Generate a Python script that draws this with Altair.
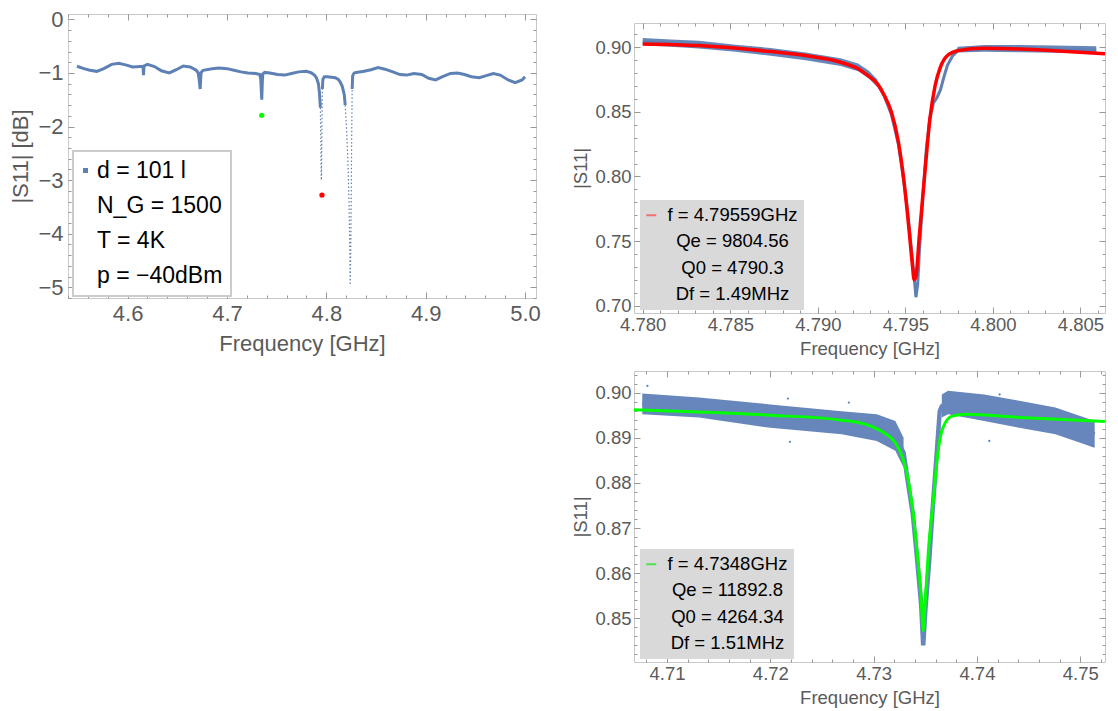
import altair as alt
import pandas as pd

FONT = "Liberation Sans"
BLUE = "#5E81B5"
CLOUD = "#6686bc"
RED = "#FF0000"
GREEN = "#00FF00"
FRAME = "#c8c8c8"
TICK = "#999999"
LABEL = "#5a5a5a"

# ---------------- panel 1 : |S11| [dB] overview ----------------
p1_segA_f = [4.549, 4.556, 4.562, 4.569, 4.576, 4.584, 4.591, 4.598, 4.605, 4.613, 4.6155, 4.616, 4.6165,
             4.620, 4.627, 4.634, 4.642, 4.649, 4.656, 4.663, 4.669, 4.671, 4.672, 4.673, 4.6735, 4.674, 4.676,
             4.685, 4.692, 4.700, 4.707, 4.714, 4.721, 4.729, 4.733, 4.734, 4.7345, 4.735, 4.7355, 4.736, 4.738,
             4.743, 4.751, 4.758, 4.765, 4.772, 4.780, 4.785, 4.788, 4.790, 4.792, 4.793, 4.794]
p1_segA_db = [-0.875, -0.92, -0.95, -0.97, -0.92, -0.84, -0.82, -0.85, -0.89, -0.88, -0.88, -1.04, -0.87,
              -0.84, -0.88, -0.96, -1.0, -0.94, -0.87, -0.89, -0.95, -1.0, -1.12, -1.3, -1.12, -0.99, -0.95,
              -0.92, -0.91, -0.92, -0.95, -0.98, -1.0, -1.01, -1.03, -1.12, -1.3, -1.5, -1.2, -1.02, -0.99,
              -1.0, -1.03, -1.04, -1.01, -0.98, -0.97, -1.0, -1.04, -1.09, -1.2, -1.36, -1.65]
p1_segB_f = [4.796, 4.7965, 4.798, 4.801, 4.805, 4.809, 4.812, 4.814, 4.816, 4.818, 4.819]
p1_segB_db = [-1.3, -1.12, -1.07, -1.07, -1.08, -1.09, -1.12, -1.17, -1.25, -1.4, -1.6]
p1_segC_f = [4.826, 4.8265, 4.828, 4.830, 4.838, 4.845, 4.852, 4.859, 4.867, 4.874, 4.881, 4.888, 4.896,
             4.903, 4.910, 4.917, 4.925, 4.932, 4.939, 4.946, 4.954, 4.961, 4.968, 4.975, 4.983, 4.990,
             4.997, 5.000]
p1_segC_db = [-1.3, -1.05, -1.0, -0.99, -0.97, -0.94, -0.90, -0.93, -0.98, -1.03, -1.04, -1.01, -1.03,
              -1.10, -1.13, -1.07, -1.01, -1.0, -1.03, -1.07, -1.09, -1.05, -1.01, -1.04, -1.13, -1.18,
              -1.13, -1.07]
p1_dip1_f = [4.794, 4.7943, 4.7946, 4.795, 4.7954, 4.7957, 4.796]
p1_dip1_db = [-1.65, -2.1, -2.6, -3.0, -2.3, -1.7, -1.3]
p1_dip2_f = [4.819, 4.8205, 4.8218, 4.8228, 4.8236, 4.824, 4.8245, 4.825, 4.8255, 4.826]
p1_dip2_db = [-1.6, -2.1, -2.7, -3.4, -4.3, -4.96, -4.4, -3.4, -2.2, -1.3]
p1_green_f, p1_green_db = [4.7350], [-1.79]
p1_red_f, p1_red_db = [4.7956], [-3.28]
p1_legend = ["d = 101 l", "N_G = 1500", "T = 4K", "p = \u221240dBm"]
p1_xdom, p1_ydom = [4.540, 5.011], [-5.2, 0.1]
p1_xticks = [4.6, 4.7, 4.8, 4.9, 5.0]
p1_xminor = [round(4.54 + 0.02 * i, 2) for i in range(24)]
p1_yticks = [-5, -4, -3, -2, -1, 0]
p1_yminor = [round(-5.2 + 0.2 * i, 1) for i in range(27)]

# ---------------- panel 2 : resonance 4.79559 GHz ----------------
p2_fit_f = [4.7800, 4.7832, 4.7873, 4.7893, 4.7913, 4.7923, 4.7929, 4.7934, 4.7938, 4.7942, 4.7946,
            4.7949, 4.7952, 4.7954, 4.7955, 4.7956, 4.7958, 4.7961, 4.7964, 4.7967, 4.7970, 4.7974,
            4.7980, 4.7995, 4.8015, 4.8035, 4.8064]
p2_fit_v = [0.9026, 0.9013, 0.8967, 0.8936, 0.8884, 0.8833, 0.8776, 0.8717, 0.8627, 0.8499, 0.8267,
            0.7985, 0.7599, 0.7316, 0.7201, 0.7225, 0.7548, 0.8010, 0.8447, 0.8704, 0.8846, 0.8936,
            0.8974, 0.8992, 0.8987, 0.8974, 0.8949]
p2_data_f = [4.7800, 4.7832, 4.7853, 4.7873, 4.7893, 4.7913, 4.7923, 4.7929, 4.7934, 4.7938, 4.7942,
             4.7946, 4.7949, 4.7951, 4.7953, 4.7955, 4.7956, 4.7957, 4.7958, 4.7960, 4.7962, 4.7964,
             4.7966, 4.7968, 4.7970, 4.7972, 4.7974, 4.7977, 4.7980, 4.7995, 4.8015, 4.8035, 4.8059]
p2_data_v = [0.9043, 0.9020, 0.8993, 0.8965, 0.8930, 0.8885, 0.8845, 0.8790, 0.8720, 0.8620, 0.8480,
             0.8250, 0.7970, 0.7760, 0.7500, 0.7220, 0.7065, 0.7160, 0.7420, 0.7850, 0.8220, 0.8450,
             0.8570, 0.8610, 0.8670, 0.8770, 0.8860, 0.8935, 0.8975, 0.8992, 0.8990, 0.8985, 0.8978]
p2_bandL_f = [4.7800, 4.7816, 4.7832, 4.7853, 4.7873, 4.7893, 4.7913, 4.7923, 4.7929, 4.7934]
p2_bandL_lo = [0.9015, 0.9005, 0.8990, 0.8965, 0.8935, 0.8900, 0.8855, 0.8815, 0.8760, 0.8690]
p2_bandL_hi = [0.9072, 0.9060, 0.9050, 0.9020, 0.8995, 0.8960, 0.8915, 0.8875, 0.8820, 0.8750]
p2_bandR_f = [4.7978, 4.7980, 4.7995, 4.8015, 4.8035, 4.8059]
p2_bandR_lo = [0.8930, 0.8960, 0.8966, 0.8962, 0.8958, 0.8953]
p2_bandR_hi = [0.8960, 0.9005, 0.9017, 0.9017, 0.9013, 0.9008]
p2_legend = ["f = 4.79559GHz", "Qe = 9804.56", "Q0 = 4790.3", "Df = 1.49MHz"]
p2_xdom, p2_ydom = [4.7795, 4.8064], [0.6943, 0.9188]
p2_xticks = [4.780, 4.785, 4.790, 4.795, 4.800, 4.805]
p2_xminor = [round(4.780 + 0.001 * i, 3) for i in range(27)]
p2_yticks = [0.70, 0.75, 0.80, 0.85, 0.90]
p2_yminor = [round(0.70 + 0.01 * i, 2) for i in range(22)]

# ---------------- panel 3 : resonance 4.7348 GHz ----------------
p3_fit_f = [4.7068, 4.7131, 4.7200, 4.7269, 4.7297, 4.7310, 4.7321, 4.7328, 4.7333, 4.7338, 4.7342,
            4.7346, 4.7348, 4.7350, 4.7353, 4.7358, 4.7362, 4.7367, 4.7376, 4.7390, 4.7441, 4.7524]
p3_fit_v = [0.8962, 0.8957, 0.8950, 0.8939, 0.8926, 0.8911, 0.8889, 0.8856, 0.8812, 0.8738, 0.8649,
            0.8546, 0.8472, 0.8539, 0.8649, 0.8767, 0.8863, 0.8922, 0.8948, 0.8952, 0.8945, 0.8936]
p3_data_f = [4.7076, 4.7131, 4.7200, 4.7269, 4.7303, 4.7321, 4.7329, 4.7333, 4.7338, 4.7342, 4.7346,
             4.7348, 4.7350, 4.7354, 4.7357, 4.7361, 4.7364, 4.7366, 4.7372, 4.7407, 4.7441, 4.7476, 4.7514]
p3_data_v = [0.8975, 0.8967, 0.8948, 0.8934, 0.8922, 0.8904, 0.8867, 0.8804, 0.8730, 0.8634, 0.8531,
             0.8440, 0.8516, 0.8634, 0.8738, 0.8863, 0.8959, 0.8970, 0.8978, 0.8966, 0.8952, 0.8937, 0.8908]
p3_bandL_f = [4.7076, 4.7131, 4.7200, 4.7269, 4.7303, 4.7321, 4.7329]
p3_bandL_lo = [0.8952, 0.8945, 0.8922, 0.8908, 0.8893, 0.8871, 0.8834]
p3_bandL_hi = [0.8998, 0.8989, 0.8974, 0.8959, 0.8952, 0.8937, 0.8900]
p3_bandR_f = [4.7366, 4.7372, 4.7407, 4.7441, 4.7476, 4.7514]
p3_bandR_lo = [0.8945, 0.8952, 0.8937, 0.8922, 0.8908, 0.8878]
p3_bandR_hi = [0.8996, 0.9004, 0.8996, 0.8982, 0.8967, 0.8937]
p3_out_f = [4.7081, 4.7217, 4.7276, 4.7422, 4.7512, 4.7219, 4.7412]
p3_out_v = [0.9015, 0.8987, 0.8978, 0.8996, 0.8882, 0.8891, 0.8893]
p3_legend = ["f = 4.7348GHz", "Qe = 11892.8", "Q0 = 4264.34", "Df = 1.51MHz"]
p3_xdom, p3_ydom = [4.7068, 4.7524], [0.8403, 0.9048]
p3_xticks = [4.71, 4.72, 4.73, 4.74, 4.75]
p3_xminor = [round(4.708 + 0.002 * i, 3) for i in range(23)]
p3_yticks = [0.85, 0.86, 0.87, 0.88, 0.89, 0.90]
p3_yminor = [round(0.842 + 0.002 * i, 3) for i in range(32)]


def scales(xd, yd):
    return (alt.Scale(domain=xd, nice=False, zero=False),
            alt.Scale(domain=yd, nice=False, zero=False))


def frame_layers(xd, yd, xmaj, xmin, ymaj, ymin, xfmt, yfmt, xtitle, ytitle, fs,
                 xlp, xtp, ylp, ytp):
    sx, sy = scales(xd, yd)
    base = alt.Chart(pd.DataFrame({"f": xd, "v": yd})).mark_point(opacity=0)

    def ax(orient, values, size, labels=False, fmt="", title="", lp=0, tp=0):
        kw = dict(orient=orient, values=values, tickSize=size, offset=-size, domain=False,
                  grid=False, tickColor=TICK, tickWidth=1, ticks=True, labels=labels, title=None)
        if labels:
            kw.update(format=fmt, title=title, labelFontSize=fs, labelColor=LABEL,
                      labelPadding=lp, labelFlush=False, labelOverlap=False,
                      titleFontSize=fs, titleColor=LABEL, titlePadding=tp,
                      titleFontWeight="normal")
        return alt.Axis(**kw)

    out = []
    specs = [
        (ax("bottom", xmaj, 6, True, xfmt, xtitle, xlp, xtp), ax("left", ymaj, 6, True, yfmt, ytitle, ylp, ytp)),
        (ax("bottom", xmin, 3), ax("left", ymin, 3)),
        (ax("top", xmaj, 6), ax("right", ymaj, 6)),
        (ax("top", xmin, 3), ax("right", ymin, 3)),
    ]
    for axx, axy in specs:
        out.append(base.encode(x=alt.X("f:Q", scale=sx, axis=axx),
                               y=alt.Y("v:Q", scale=sy, axis=axy)))
    return out


def xy(sx, sy, yf="v"):
    return dict(x=alt.X("f:Q", scale=sx, axis=None), y=alt.Y(yf + ":Q", scale=sy, axis=None))


# ---------- build panel 1 ----------
sx1, sy1 = scales(p1_xdom, p1_ydom)
trace1 = pd.DataFrame({
    "f": p1_segA_f + p1_segB_f + p1_segC_f,
    "v": p1_segA_db + p1_segB_db + p1_segC_db,
    "seg": ["A"] * len(p1_segA_f) + ["B"] * len(p1_segB_f) + ["C"] * len(p1_segC_f),
})
dips1 = pd.DataFrame({
    "f": p1_dip1_f + p1_dip2_f,
    "v": p1_dip1_db + p1_dip2_db,
    "seg": ["d1"] * len(p1_dip1_f) + ["d2"] * len(p1_dip2_f),
})
l_trace1 = alt.Chart(trace1).mark_line(color=BLUE, strokeWidth=3, clip=True).encode(
    detail="seg:N", order="f:Q", **xy(sx1, sy1))
l_dips1 = alt.Chart(dips1).mark_line(color=BLUE, strokeWidth=1.2, strokeDash=[1.5, 2.2], clip=True).encode(
    detail="seg:N", **xy(sx1, sy1))
l_g1 = alt.Chart(pd.DataFrame({"f": p1_green_f, "v": p1_green_db})).mark_circle(
    color=GREEN, size=28, opacity=1).encode(**xy(sx1, sy1))
l_r1 = alt.Chart(pd.DataFrame({"f": p1_red_f, "v": p1_red_db})).mark_circle(
    color=RED, size=28, opacity=1).encode(**xy(sx1, sy1))
leg1 = alt.Chart(pd.DataFrame({"entry": p1_legend})).mark_square(opacity=0, filled=True).encode(
    color=alt.Color("entry:N",
                    scale=alt.Scale(domain=p1_legend, range=[BLUE, "transparent", "transparent", "transparent"]),
                    legend=alt.Legend(title=None, orient="none", legendX=5, legendY=137,
                                      symbolType="square", symbolSize=25, symbolOpacity=1,
                                      symbolStrokeWidth=0, symbolOffset=-7, labelFontSize=23,
                                      labelColor="black", labelAlign="left", labelOffset=0,
                                      rowPadding=11, padding=8,
                                      fillColor="white", strokeColor="#cccccc",
                                      labelLimit=0)))
p1 = alt.layer(
    *frame_layers(p1_xdom, p1_ydom, p1_xticks, p1_xminor, p1_yticks, p1_yminor, ".1f", "d",
                  "Frequency [GHz]", "|S11| [dB]", 22, 5, 9, 5, 5),
    l_trace1, l_dips1, l_g1, l_r1, leg1,
).resolve_axis(x="independent", y="independent").properties(width=468, height=284)

# ---------- build panel 2 ----------
sx2, sy2 = scales(p2_xdom, p2_ydom)
band2 = pd.DataFrame({"f": p2_bandL_f + p2_bandR_f, "v": p2_bandL_lo + p2_bandR_lo,
                      "v2": p2_bandL_hi + p2_bandR_hi,
                      "sec": ["L"] * len(p2_bandL_f) + ["R"] * len(p2_bandR_f)})
l_band2 = alt.Chart(band2).mark_area(color=BLUE, opacity=0.95, clip=True).encode(
    y2="v2:Q", detail="sec:N", **xy(sx2, sy2))
l_data2 = alt.Chart(pd.DataFrame({"f": p2_data_f, "v": p2_data_v})).mark_line(
    color=BLUE, strokeWidth=3, clip=True).encode(**xy(sx2, sy2))
l_fit2 = alt.Chart(pd.DataFrame({"f": p2_fit_f, "v": p2_fit_v})).mark_line(
    color=RED, strokeWidth=3.5, interpolate="monotone", clip=True).encode(**xy(sx2, sy2))
leg2 = alt.Chart(pd.DataFrame({"entry": p2_legend})).mark_point(opacity=0, filled=False).encode(
    color=alt.Color("entry:N",
                    scale=alt.Scale(domain=p2_legend, range=["#f07070", "transparent", "transparent", "transparent"]),
                    legend=alt.Legend(title=None, orient="none", legendX=7, legendY=178,
                                      symbolType="stroke", symbolSize=100, symbolStrokeWidth=2,
                                      symbolOpacity=1, symbolOffset=-4, labelFontSize=18.5,
                                      labelColor="black", labelAlign="center", labelOffset=72,
                                      rowPadding=7.2, padding=5,
                                      fillColor="#d9d9d9", strokeColor="#d9d9d9", labelLimit=0)))
p2 = alt.layer(
    *frame_layers(p2_xdom, p2_ydom, p2_xticks, p2_xminor, p2_yticks, p2_yminor, ".3f", ".2f",
                  "Frequency [GHz]", "|S11|", 18.5, 2, 6, 3, 4),
    l_band2, l_data2, l_fit2, leg2,
).resolve_axis(x="independent", y="independent").properties(width=471, height=290)

# ---------- build panel 3 ----------
sx3, sy3 = scales(p3_xdom, p3_ydom)
band3 = pd.DataFrame({"f": p3_bandL_f + p3_bandR_f, "v": p3_bandL_lo + p3_bandR_lo,
                      "v2": p3_bandL_hi + p3_bandR_hi,
                      "sec": ["L"] * len(p3_bandL_f) + ["R"] * len(p3_bandR_f)})
l_band3 = alt.Chart(band3).mark_area(color=CLOUD, opacity=1, clip=True).encode(
    y2="v2:Q", detail="sec:N", **xy(sx3, sy3))
l_data3 = alt.Chart(pd.DataFrame({"f": p3_data_f, "v": p3_data_v})).mark_line(
    color=CLOUD, strokeWidth=4.5, opacity=1, clip=True).encode(**xy(sx3, sy3))
l_out3 = alt.Chart(pd.DataFrame({"f": p3_out_f, "v": p3_out_v})).mark_circle(
    color=BLUE, size=5, opacity=1).encode(**xy(sx3, sy3))
l_fit3 = alt.Chart(pd.DataFrame({"f": p3_fit_f, "v": p3_fit_v})).mark_line(
    color=GREEN, strokeWidth=3, interpolate="monotone", clip=True).encode(**xy(sx3, sy3))
leg3 = alt.Chart(pd.DataFrame({"entry": p3_legend})).mark_point(opacity=0, filled=False).encode(
    color=alt.Color("entry:N",
                    scale=alt.Scale(domain=p3_legend, range=["#4ee04e", "transparent", "transparent", "transparent"]),
                    legend=alt.Legend(title=None, orient="none", legendX=7, legendY=179,
                                      symbolType="stroke", symbolSize=100, symbolStrokeWidth=2,
                                      symbolOpacity=1, symbolOffset=-4, labelFontSize=18.5,
                                      labelColor="black", labelAlign="center", labelOffset=67,
                                      rowPadding=7.2, padding=5,
                                      fillColor="#d9d9d9", strokeColor="#d9d9d9", labelLimit=0)))
p3 = alt.layer(
    *frame_layers(p3_xdom, p3_ydom, p3_xticks, p3_xminor, p3_yticks, p3_yminor, ".2f", ".2f",
                  "Frequency [GHz]", "|S11|", 18.5, 2, 6, 3, 4),
    l_band3, l_data3, l_out3, l_fit3, leg3,
).resolve_axis(x="independent", y="independent").properties(width=471, height=291)

spacer = alt.Chart(pd.DataFrame({"f": [0]})).mark_point(opacity=0).properties(
    width=471, height=9, view=alt.ViewBackground(stroke="transparent"))

inner = alt.vconcat(p2, p3, spacing=58, bounds="flush").resolve_scale(color="independent")
right = alt.vconcat(spacer, inner, spacing=0, bounds="flush").resolve_scale(color="independent")
chart = alt.hconcat(p1, right, spacing=98, bounds="flush").resolve_scale(color="independent").properties(
    padding={"left": 9, "top": 7, "right": 4, "bottom": 4}
).configure(font=FONT).configure_view(stroke=FRAME, strokeWidth=1).configure_axis(
    labelFont=FONT, titleFont=FONT).configure_legend(labelFont=FONT, strokeWidth=2)

chart.save("out.html", embed_options={"renderer": "svg", "actions": False})
